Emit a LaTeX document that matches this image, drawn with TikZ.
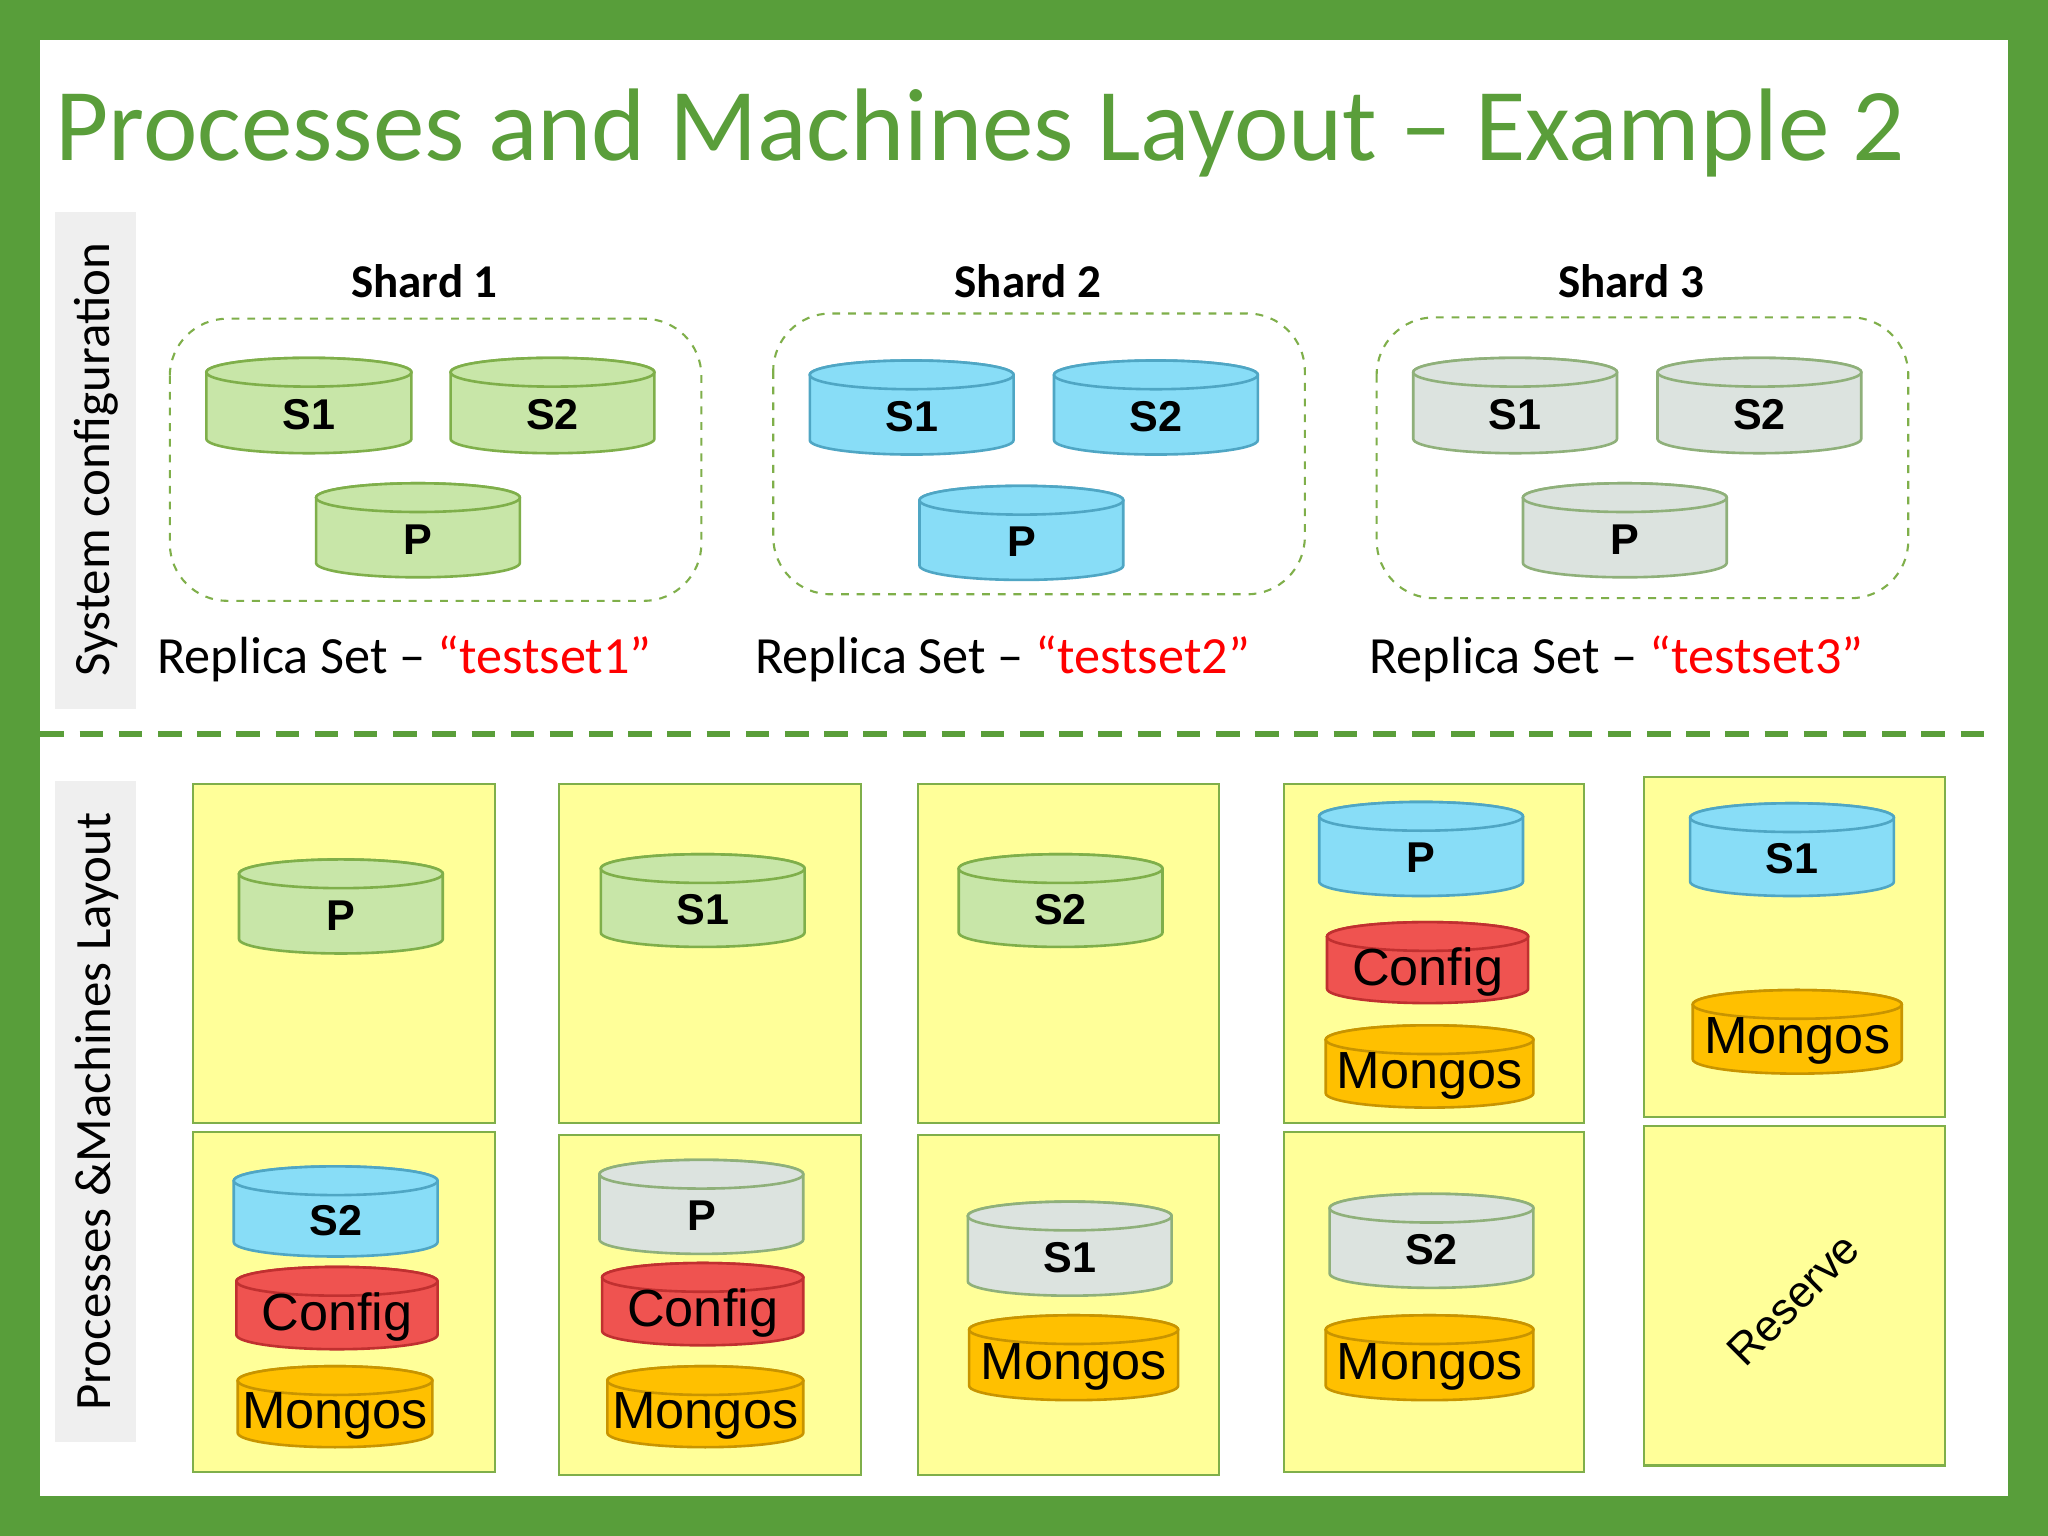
\documentclass[tikz,border=0pt]{standalone}
\usepackage{fontspec}
\setmainfont{Carlito}
\newfontfamily\arial{Liberation Sans}
\definecolor{frame}{HTML}{589E3A}
\definecolor{ttl}{HTML}{5A9E3A}
\definecolor{gfill}{HTML}{C8E6A8}\definecolor{gdraw}{HTML}{7FAF4A}
\definecolor{bfill}{HTML}{88DDF7}\definecolor{bdraw}{HTML}{4FA6C4}
\definecolor{sfill}{HTML}{DCE3DF}\definecolor{sdraw}{HTML}{8FB07A}
\definecolor{rfill}{HTML}{EF5350}\definecolor{rdraw}{HTML}{C03030}
\definecolor{ofill}{HTML}{FFC000}\definecolor{odraw}{HTML}{C89400}
\definecolor{yfill}{HTML}{FFFF99}\definecolor{ydraw}{HTML}{7FAF4A}
\definecolor{side}{HTML}{EFEFEF}
\tikzset{
 cg/.style={fill=gfill,draw=gdraw,line width=1pt},
 cb/.style={fill=bfill,draw=bdraw,line width=1pt},
 cs/.style={fill=sfill,draw=sdraw,line width=1pt},
 cr/.style={fill=rfill,draw=rdraw,line width=1pt},
 co/.style={fill=ofill,draw=odraw,line width=1pt},
 lbl/.style={font=\arial\bfseries\fontsize{16.5}{18}\selectfont},
 big/.style={font=\arial\fontsize{20}{22}\selectfont},
 shardbox/.style={draw=gdraw,dashed,line width=0.8pt,rounded corners=22pt},
 mach/.style={fill=yfill,draw=ydraw,line width=0.8pt},
}
\newcommand\cyl[8]{%
 \pgfmathsetmacro\cx{(#2+#3)/2}\pgfmathsetmacro\rx{(#3-#2)/2}%
 \pgfmathsetmacro\ta{-#4-11}\pgfmathsetmacro\tb{-#5+11}%
 \pgfmathsetmacro\tm{(\ta+\tb)/2-7}%
 \path[#6] (#2,\ta) -- (#2,\tb) arc[start angle=180,end angle=360,x radius=\rx*0.5pt,y radius=5.5pt] -- (#3,\ta) arc[start angle=0,end angle=180,x radius=\rx*0.5pt,y radius=5.5pt] -- cycle;
 \path[#6] (\cx,\ta) ellipse[x radius=\rx*0.5pt,y radius=5.5pt];
 \node[#7,inner sep=0] (#1) at (\cx,\tm) {#8};}
\begin{document}
\begin{tikzpicture}[x=0.5pt,y=0.5pt]
\useasboundingbox (0,0) rectangle (1568,-1176);
\fill[frame] (0,0) rectangle (1568,-1176);
\fill[white] (31,-31) rectangle (1537,-1145);
\node[anchor=base west,inner sep=0,text=ttl,font=\fontsize{39.5}{44}\selectfont] (title) at (42,-123) {Processes and Machines Layout -- Example 2};
\fill[side] (42,-162) rectangle (104,-543);
\fill[side] (42,-598) rectangle (104,-1104);
\node[rotate=90,font=\fontsize{19.5}{22}\selectfont] (sys) at (74,-352) {System configuration};
\node[rotate=90,font=\fontsize{19.5}{22}\selectfont] (pml) at (74,-851) {Processes \&Machines Layout};
\draw[ttl,line width=2pt,dash pattern=on 9pt off 6pt] (31,-562) -- (1530,-562);
\foreach \d/\n/\ya/\yb/\tx in {0/1/244/460/120,462/2/240/455/578,924/3/243/458/1048}{
 \draw[shardbox] (130+\d,-\ya) rectangle (537+\d,-\yb);
 \node[font=\bfseries\fontsize{18}{20}\selectfont] at (325+\d,-215) {Shard \n};
 \node[anchor=base west,inner sep=0,font=\fontsize{20}{22}\selectfont] at (\tx,-516) {Replica Set -- \textcolor{red}{``testset\n''}};
}
\cyl{a1}{158}{315}{274}{347}{cg}{lbl}{S1}
\cyl{a2}{345}{501}{274}{347}{cg}{lbl}{S2}
\cyl{a3}{242}{398}{370}{442}{cg}{lbl}{P}
\cyl{b1}{620}{776}{276}{348}{cb}{lbl}{S1}
\cyl{b2}{807}{963}{276}{348}{cb}{lbl}{S2}
\cyl{b3}{704}{860}{372}{444}{cb}{lbl}{P}
\cyl{c1}{1082}{1238}{274}{347}{cs}{lbl}{S1}
\cyl{c2}{1269}{1425}{274}{347}{cs}{lbl}{S2}
\cyl{c3}{1166}{1322}{370}{442}{cs}{lbl}{P}
\draw[mach] (148,-600) rectangle (379,-860);
\draw[mach] (428,-600) rectangle (659,-860);
\draw[mach] (703,-600) rectangle (933,-860);
\draw[mach] (983,-600) rectangle (1213,-860);
\draw[mach] (1259,-595) rectangle (1489,-855);
\draw[mach] (148,-867) rectangle (379,-1127);
\draw[mach] (428,-869) rectangle (659,-1129);
\draw[mach] (703,-869) rectangle (933,-1129);
\draw[mach] (983,-867) rectangle (1213,-1127);
\draw[mach] (1259,-862) rectangle (1489,-1122);
\cyl{m1}{183}{339}{658}{730}{cg}{lbl}{P}
\cyl{m2}{460}{616}{654}{725}{cg}{lbl}{S1}
\cyl{m3}{734}{890}{654}{725}{cg}{lbl}{S2}
\cyl{m4a}{1010}{1166}{614}{686}{cb}{lbl}{P}
\cyl{m4b}{1016}{1170}{706}{768}{cr}{big}{Config}
\cyl{m4c}{1015}{1174}{785}{848}{co}{big}{Mongos}
\cyl{m5a}{1294}{1450}{615}{686}{cb}{lbl}{S1}
\cyl{m5b}{1296}{1456}{758}{822}{co}{big}{Mongos}
\cyl{n1a}{179}{335}{893}{962}{cb}{lbl}{S2}
\cyl{n1b}{181}{335}{970}{1033}{cr}{big}{Config}
\cyl{n1c}{182}{331}{1046}{1108}{co}{big}{Mongos}
\cyl{n2a}{459}{615}{888}{960}{cs}{lbl}{P}
\cyl{n2b}{461}{615}{967}{1030}{cr}{big}{Config}
\cyl{n2c}{465}{615}{1046}{1108}{co}{big}{Mongos}
\cyl{n3a}{741}{897}{920}{992}{cs}{lbl}{S1}
\cyl{n3b}{742}{902}{1007}{1072}{co}{big}{Mongos}
\cyl{n4a}{1018}{1174}{914}{986}{cs}{lbl}{S2}
\cyl{n4b}{1015}{1174}{1007}{1072}{co}{big}{Mongos}
\node[rotate=45,font=\arial\fontsize{17}{19}\selectfont] (reserve) at (1373,-995) {Reserve};
\end{tikzpicture}
\end{document}
